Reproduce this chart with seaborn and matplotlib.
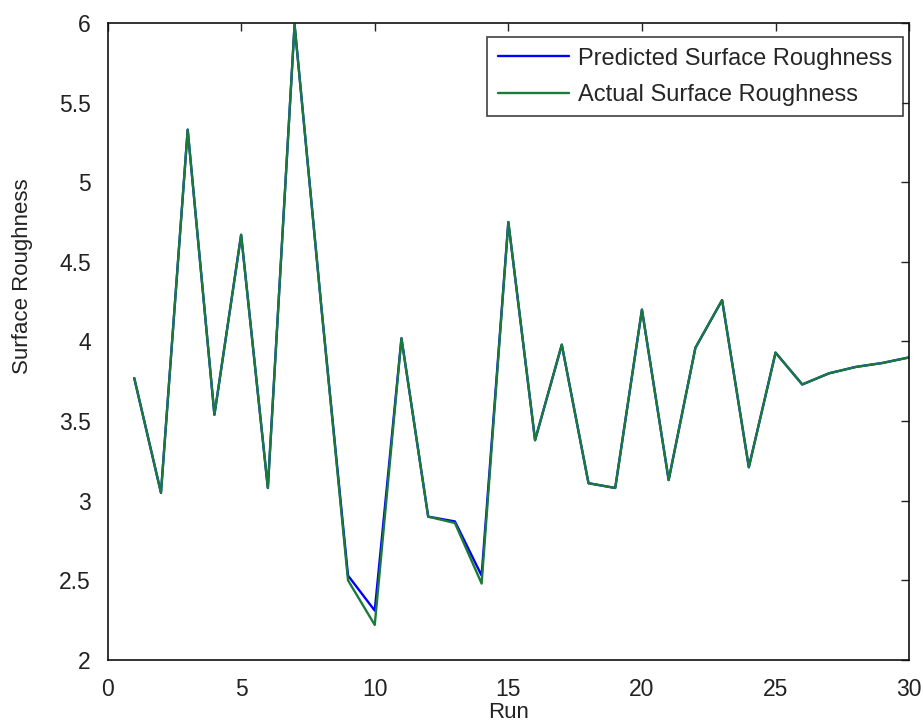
import numpy as np
import pandas as pd
import matplotlib
matplotlib.use("Agg")
import matplotlib.pyplot as plt
import seaborn as sns

runs = list(range(1, 31))
predicted = [3.77, 3.05, 5.33, 3.54, 4.67, 3.08, 5.99, 4.22, 2.53, 2.31,
             4.02, 2.90, 2.87, 2.53, 4.75, 3.38, 3.98, 3.11, 3.08, 4.20,
             3.13, 3.96, 4.26, 3.21, 3.93, 3.73, 3.80, 3.84, 3.865, 3.90]
actual = [3.77, 3.05, 5.33, 3.54, 4.67, 3.08, 5.99, 4.22, 2.50, 2.22,
          4.02, 2.90, 2.86, 2.48, 4.75, 3.38, 3.98, 3.11, 3.08, 4.20,
          3.13, 3.96, 4.26, 3.21, 3.93, 3.73, 3.80, 3.84, 3.865, 3.90]
series_names = ["Predicted Surface Roughness", "Actual Surface Roughness"]

df = pd.DataFrame({
    "Run": runs * 2,
    "Surface Roughness": predicted + actual,
    "Series": [series_names[0]] * len(runs) + [series_names[1]] * len(runs),
})

sns.set_theme(style="white")
plt.rcParams["font.family"] = ["Liberation Sans", "DejaVu Sans"]

fig = plt.figure(figsize=(9.23, 7.25), dpi=100)
ax = fig.add_axes([0.1165, 0.0897, 0.8685, 0.8786])

palette = {series_names[0]: "#0000ff", series_names[1]: "#1a7a3a"}
sns.lineplot(data=df, x="Run", y="Surface Roughness", hue="Series",
             palette=palette, linewidth=1.7, ax=ax, estimator=None, sort=False)

ax.set_xlim(0, 30)
ax.set_ylim(2, 6)
ax.set_xticks([0, 5, 10, 15, 20, 25, 30])
ax.set_yticks([2, 2.5, 3, 3.5, 4, 4.5, 5, 5.5, 6])
ax.set_yticklabels(["2", "2.5", "3", "3.5", "4", "4.5", "5", "5.5", "6"])
ax.tick_params(direction="in", length=6, width=1, top=True, right=True,
               labelsize=16.5, colors="#222222")
ax.tick_params(axis="x", pad=13)
ax.tick_params(axis="y", pad=12)
for s in ax.spines.values():
    s.set_color("#111111")
    s.set_linewidth(1.2)
ax.set_xlabel("Run", fontsize=16, color="#222222", labelpad=1)
ax.set_ylabel("Surface Roughness", fontsize=16, color="#222222")
ax.yaxis.set_label_coords(-0.093, 0.603)

leg = ax.legend(loc="upper right", fontsize=17, frameon=True, fancybox=False,
                edgecolor="#111111", handlelength=3.0, borderpad=0.45,
                labelspacing=0.6, handletextpad=0.4, borderaxespad=0.0,
                bbox_to_anchor=(0.9925, 0.978))
leg.get_frame().set_linewidth(1.2)
leg.set_title(None)

fig.savefig("out.png", dpi=100, facecolor="white")
